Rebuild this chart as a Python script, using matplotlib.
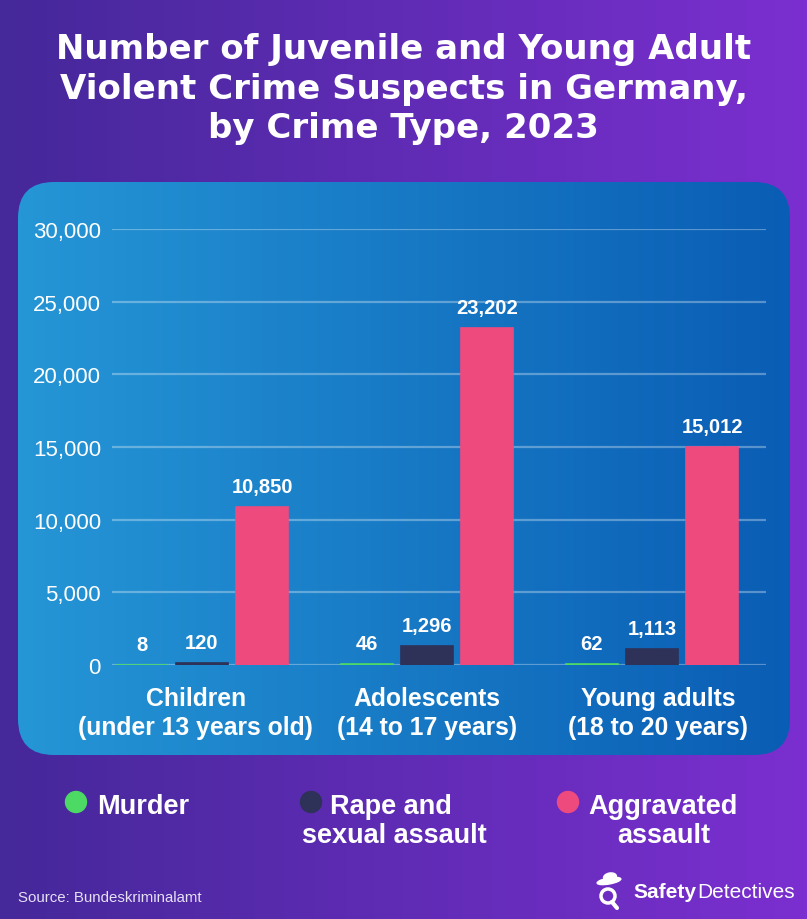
import numpy as np
import matplotlib.pyplot as plt
from matplotlib.patches import FancyBboxPatch, Circle, Ellipse
from matplotlib.colors import LinearSegmentedColormap

plt.rcParams['font.family'] = ['Liberation Sans', 'DejaVu Sans']

# data
groups = ['Children\n(under 13 years old)', 'Adolescents\n(14 to 17 years)',
          'Young adults\n(18 to 20 years)']
series = [['Murder'], ['Rape and', 'sexual assault'], ['Aggravated', 'assault']]
murder = [8, 46, 62]
rape = [120, 1296, 1113]
aggravated = [10850, 23202, 15012]
yticks = [0, 5000, 10000, 15000, 20000, 25000, 30000]
colors = ['#4cd964', '#2e3158', '#ef4a7e']

W, H = 807, 920
fig = plt.figure(figsize=(W / 100, H / 100), dpi=100)

# background gradient
bg = fig.add_axes([0, 0, 1, 1])
bg.set_xlim(0, W)
bg.set_ylim(H, 0)
bg.axis('off')
grad = np.linspace(0, 1, 256).reshape(1, -1)
bg_cmap = LinearSegmentedColormap.from_list('bg', ['#45289a', '#7b2fd0'])
bg.imshow(grad, cmap=bg_cmap, extent=[0, W, H, 0], aspect='auto')

# rounded panel with blue gradient
panel_cmap = LinearSegmentedColormap.from_list('pn', ['#2596d6', '#0a5db4'])
im = bg.imshow(grad, cmap=panel_cmap, extent=[18, 790, 756, 183], aspect='auto')
box = FancyBboxPatch((18, 183), 772, 573, boxstyle='round,pad=0,rounding_size=36',
                     facecolor='none', edgecolor='none', transform=bg.transData)
bg.add_patch(box)
im.set_clip_path(box)

# title
bg.text(W / 2, 89, 'Number of Juvenile and Young Adult\nViolent Crime Suspects in Germany,\nby Crime Type, 2023',
        ha='center', va='center', color='white', fontsize=24.5, fontweight='heavy',
        family='DejaVu Sans', linespacing=1.25)

# chart
ax = fig.add_axes([112 / W, 1 - 666 / H, (766 - 112) / W, (666 - 230) / H])
ax.set_facecolor('none')
x = np.arange(len(groups))
w = 0.231
off = 0.267
for i, (vals, c) in enumerate(zip([murder, rape, aggravated], colors)):
    pos = x + (i - 1) * off
    ax.bar(pos, vals, width=w, color=c, edgecolor=c, linewidth=1.2, zorder=3)
    for p, v in zip(pos, vals):
        ax.text(p, v + 750, f'{v:,}', ha='center', va='bottom', color='white',
                fontsize=14.5, fontweight='bold', zorder=4)

ax.set_xlim(-0.4, 2.507)
ax.set_ylim(0, 30000)
ax.set_yticks(yticks)
ax.set_yticklabels([f'{t:,}' for t in yticks])
ax.yaxis.grid(True, color='white', alpha=0.32, linewidth=1.6, zorder=0)
ax.set_axisbelow(True)
ax.tick_params(axis='y', length=0, pad=8, labelcolor='white', labelsize=16)
ax.set_xticks(x + np.array([-0.027, 0.0, 0.027]))
ax.set_xticklabels(groups, color='white', fontsize=17.8, fontweight='bold', linespacing=1.25)
ax.tick_params(axis='x', length=0, pad=15)
for s in ax.spines.values():
    s.set_visible(False)

# legend
circ_x = [76, 311, 568]
line_x = [[97], [330, 302], [588, 617]]
for cx, xs, lab, c in zip(circ_x, line_x, series, colors):
    bg.add_patch(Circle((cx, 803), 10.5, color=c, transform=bg.transData))
    for k, (tx, t) in enumerate(zip(xs, lab)):
        bg.text(tx, 807 + 29 * k, t, ha='left', va='center', color='white',
                fontsize=19.5, fontweight='bold')

# footer
bg.text(18, 898, 'Source: Bundeskriminalamt', ha='left', va='center', color='#e6e0f5', fontsize=10.8)
t1 = bg.text(633, 893, 'Safety', ha='left', va='center', color='white', fontsize=15,
             fontweight='bold')
fig.canvas.draw()
bb = t1.get_window_extent(fig.canvas.get_renderer())
bg.text(633 + bb.width + 1, 893, 'Detectives', ha='left', va='center', color='white',
        fontsize=15)
# simple detective icon
bg.add_patch(Circle((608, 897), 7, facecolor='none', edgecolor='white', linewidth=2.5))
bg.plot([612, 617], [903, 909], color='white', linewidth=3, solid_capstyle='round')
bg.add_patch(Ellipse((609, 882), 24, 6, angle=-10, color='white'))
bg.add_patch(Ellipse((610, 878), 13, 8, angle=-10, color='white'))

fig.savefig('out.png', dpi=100)
